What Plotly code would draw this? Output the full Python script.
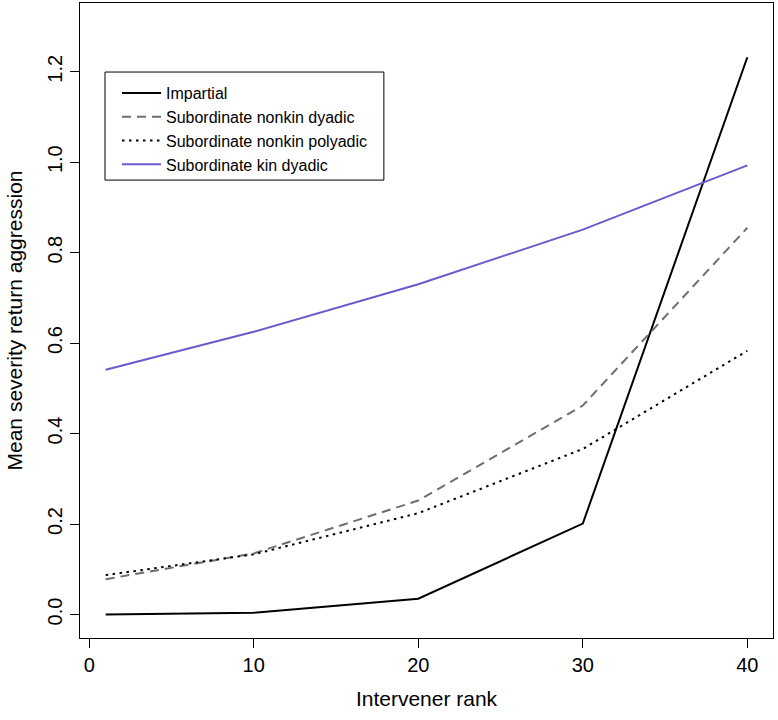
import plotly.graph_objects as go

# ---- data ----
intervener_rank = [1, 10, 20, 30, 40]
impartial = [0.0, 0.004, 0.035, 0.201, 1.232]
subordinate_nonkin_dyadic = [0.078, 0.135, 0.252, 0.462, 0.855]
subordinate_nonkin_polyadic = [0.087, 0.133, 0.224, 0.366, 0.583]
subordinate_kin_dyadic = [0.541, 0.625, 0.730, 0.851, 0.993]

series_names = ["Impartial", "Subordinate nonkin dyadic",
                "Subordinate nonkin polyadic", "Subordinate kin dyadic"]
x_ticks = [0, 10, 20, 30, 40]
y_ticks = [0.0, 0.2, 0.4, 0.6, 0.8, 1.0, 1.2]

FONT = "Liberation Sans, Arial, Helvetica, sans-serif"

fig = go.Figure()
styles = [
    dict(color="black", width=2, dash="solid"),
    dict(color="#6e6e6e", width=2, dash="9px,6px"),
    dict(color="black", width=2, dash="2.5px,4.5px"),
    dict(color="#6A5ACD", width=2, dash="solid"),
]
for name, ys, st in zip(series_names,
                        [impartial, subordinate_nonkin_dyadic,
                         subordinate_nonkin_polyadic, subordinate_kin_dyadic],
                        styles):
    fig.add_trace(go.Scatter(x=intervener_rank, y=ys, mode="lines", name=name,
                             line=st, showlegend=True))

PL, PR, PT, PB = 80, 773.3, 3, 637.7
PW, PH = PR - PL, PB - PT

fig.update_layout(
    width=778, height=720,
    margin=dict(l=80, r=5, t=3, b=82),
    paper_bgcolor="white", plot_bgcolor="white",
    font=dict(family=FONT, color="black", size=20),
    showlegend=True,
    legend=dict(x=(117 - PL) / PW, y=(PB - 76) / PH, xanchor="left", yanchor="top",
                bgcolor="rgba(0,0,0,0)", borderwidth=0,
                font=dict(size=16, family=FONT), itemwidth=39,
                tracegroupgap=0),
)
# legend frame
fig.add_shape(type="rect", xref="paper", yref="paper",
              x0=(105 - PL) / PW, x1=(384 - PL) / PW,
              y0=(PB - 180) / PH, y1=(PB - 72) / PH,
              line=dict(color="black", width=1), fillcolor="rgba(0,0,0,0)")

fig.update_xaxes(range=[-0.56, 41.56], tickvals=x_ticks,
                 ticktext=[str(v) for v in x_ticks],
                 ticks="outside", ticklen=9, tickwidth=1, tickcolor="black",
                 showline=True, linecolor="black", linewidth=1, mirror=True,
                 showgrid=False, zeroline=False,
                 title=dict(text="Intervener rank", font=dict(size=21), standoff=16),
                 automargin=True)
fig.update_yaxes(range=[-0.052, 1.352], tickvals=y_ticks,
                 ticktext=[f"{v:.1f}" for v in y_ticks], tickangle=-90,
                 ticks="outside", ticklen=9, tickwidth=1, tickcolor="black",
                 showline=True, linecolor="black", linewidth=1, mirror=True,
                 showgrid=False, zeroline=False,
                 title=dict(text="Mean severity return aggression", font=dict(size=21), standoff=15),
                 automargin=True)

fig.write_html("out.html", config={"displayModeBar": False},
               post_script="document.body.style.margin='0';")
